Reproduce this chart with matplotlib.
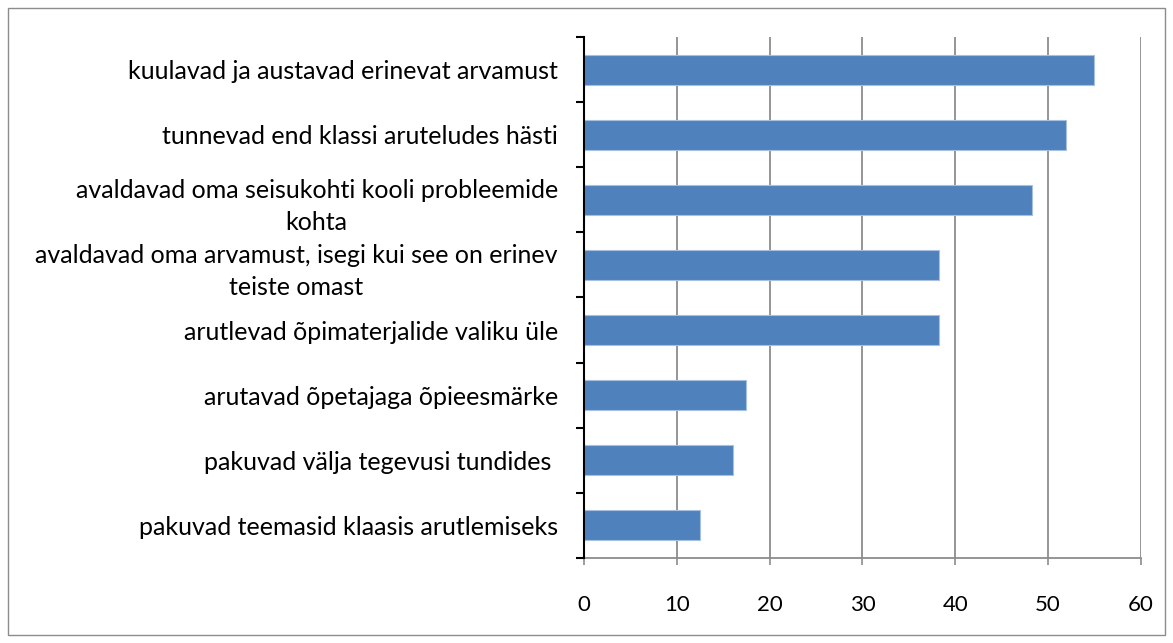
import numpy as np
import matplotlib.pyplot as plt
from matplotlib.patches import Rectangle

plt.rcParams['font.family'] = ['Lato', 'DejaVu Sans']

# categories from bottom to top
labels = [
    'pakuvad teemasid klaasis arutlemiseks',
    'pakuvad välja tegevusi tundides ',
    'arutavad õpetajaga õpieesmärke',
    'arutlevad õpimaterjalide valiku üle',
    'avaldavad oma arvamust, isegi kui see on erinev\nteiste omast',
    'avaldavad oma seisukohti kooli probleemide\nkohta',
    'tunnevad end klassi aruteludes hästi',
    'kuulavad ja austavad erinevat arvamust',
]
values = [12.5, 16.0, 17.5, 38.2, 38.2, 48.3, 51.9, 55.0]
xticks = [0, 10, 20, 30, 40, 50, 60]

fig = plt.figure(figsize=(11.73, 6.43), dpi=100)
ax = fig.add_axes([0.498, 0.1322, 0.4745, 0.8103])

y = np.arange(len(labels))
ax.barh(y, values, height=0.46, color='#4f81bd', edgecolor='#a8c0e0',
        linewidth=0.8, zorder=3)

ax.set_xlim(0, 60)
ax.set_ylim(-0.5, len(labels) - 0.5)
ax.set_xticks(xticks)
ax.set_xticklabels([str(t) for t in xticks], fontsize=16)
ax.xaxis.grid(True, color='#8c8c8c', linewidth=1.3, zorder=0)
ax.tick_params(axis='x', length=5, width=1.2, color='#8c8c8c', pad=22)

ax.set_yticks(y)
ax.set_yticklabels(labels, fontsize=18, ha='right', multialignment='center',
                   linespacing=1.5)
ax.tick_params(axis='y', which='major', length=0, pad=19)
ax.set_yticks(np.arange(-0.5, len(labels)), minor=True)
ax.tick_params(axis='y', which='minor', length=6, width=1.5, color='black')

for s in ['top', 'right']:
    ax.spines[s].set_visible(False)
ax.spines['left'].set_color('black')
ax.spines['left'].set_linewidth(1.5)
ax.spines['left'].set_zorder(4)
ax.spines['bottom'].set_color('#8c8c8c')
ax.spines['bottom'].set_linewidth(1.3)

fig.patches.append(Rectangle((8 / 1173, 8 / 643), 1157 / 1173, 627 / 643,
                             transform=fig.transFigure, fill=False,
                             edgecolor='#8c8c8c', linewidth=1))

fig.savefig('out.png', dpi=100)
